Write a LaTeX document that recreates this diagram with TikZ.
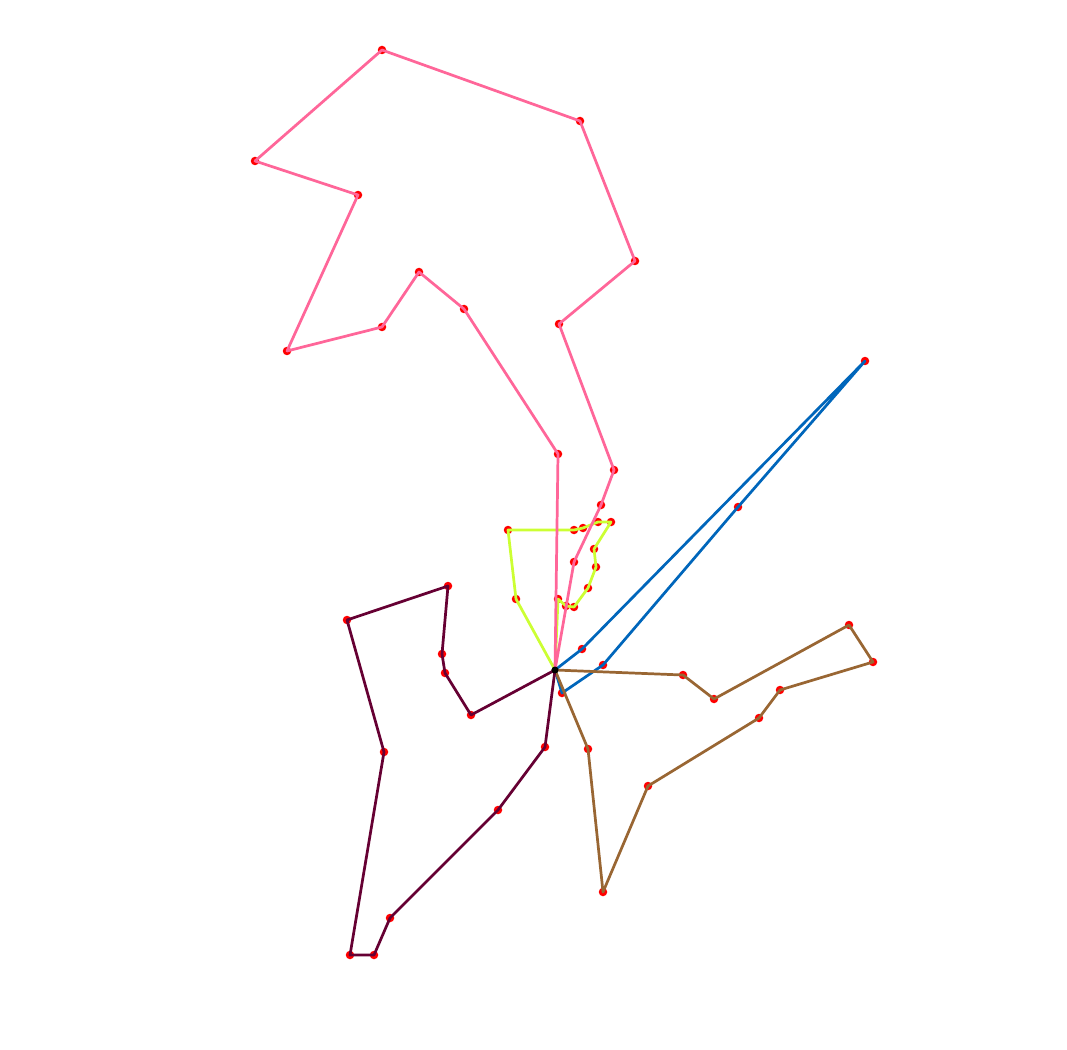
\documentclass[tikz,border=0pt]{standalone}
\usepackage{tikz}
\definecolor{routeA}{HTML}{FF6699}
\definecolor{routeB}{HTML}{CCFF33}
\definecolor{routeC}{HTML}{0066BB}
\definecolor{routeD}{HTML}{996633}
\definecolor{routeE}{HTML}{660033}
\begin{document}
\begin{tikzpicture}[x=0.02cm, y=-0.02cm,
 stop/.style={circle, fill=red, inner sep=0pt, minimum size=0.17cm},
 depotmark/.style={circle, fill=black, inner sep=0pt, minimum size=0.14cm},
 leg/.style={line width=1.55pt, line join=round},
]
 \useasboundingbox (0,0) rectangle (1067,1050);
 \node[depotmark] (depot) at (555,670) {};
 % customers, one list per vehicle
 \foreach \i/\x/\y in {1/558/454, 2/464/309, 3/419/272, 4/382/327, 5/287/351, 6/358/195, 7/255/161,
   8/382/50, 9/580/121, 10/635/261, 11/559/324, 12/614/470, 13/601/505, 14/574/562}
   \node[stop] (p\i) at (\x,\y) {};
 \foreach \i/\x/\y in {1/516/599, 2/508/530, 3/574/530, 4/583/528, 5/598/522, 6/611/522,
   7/594/549, 8/596/567, 9/588/588, 10/574/607, 11/566/606, 12/558/599}
   \node[stop] (y\i) at (\x,\y) {};
 \foreach \i/\x/\y in {1/582/649, 2/865/361, 3/738/507, 4/603/665, 5/562/693}
   \node[stop] (b\i) at (\x,\y) {};
 \foreach \i/\x/\y in {1/683/675, 2/714/699, 3/849/625, 4/873/662, 5/780/690, 6/759/718,
   7/648/786, 8/603/892, 9/588/749}
   \node[stop] (r\i) at (\x,\y) {};
 \foreach \i/\x/\y in {1/471/715, 2/445/673, 3/442/654, 4/448/586, 5/347/620, 6/384/752,
   7/350/955, 8/374/955, 9/390/918, 10/498/810, 11/545/747}
   \node[stop] (m\i) at (\x,\y) {};
 % routes: depot -> customers -> depot
 \draw[leg, routeC] (depot.center) \foreach \i in {1,...,5} { -- (b\i.center)} -- (depot.center);
 \draw[leg, routeD] (depot.center) \foreach \i in {1,...,9} { -- (r\i.center)} -- (depot.center);
 \draw[leg, routeE] (depot.center) \foreach \i in {1,...,11} { -- (m\i.center)} -- (depot.center);
 \draw[leg, routeB] (depot.center) \foreach \i in {1,...,12} { -- (y\i.center)} -- (depot.center);
 \draw[leg, routeA] (depot.center) \foreach \i in {1,...,14} { -- (p\i.center)} -- (depot.center);
 \node[depotmark] at (depot) {};
\end{tikzpicture}
\end{document}
